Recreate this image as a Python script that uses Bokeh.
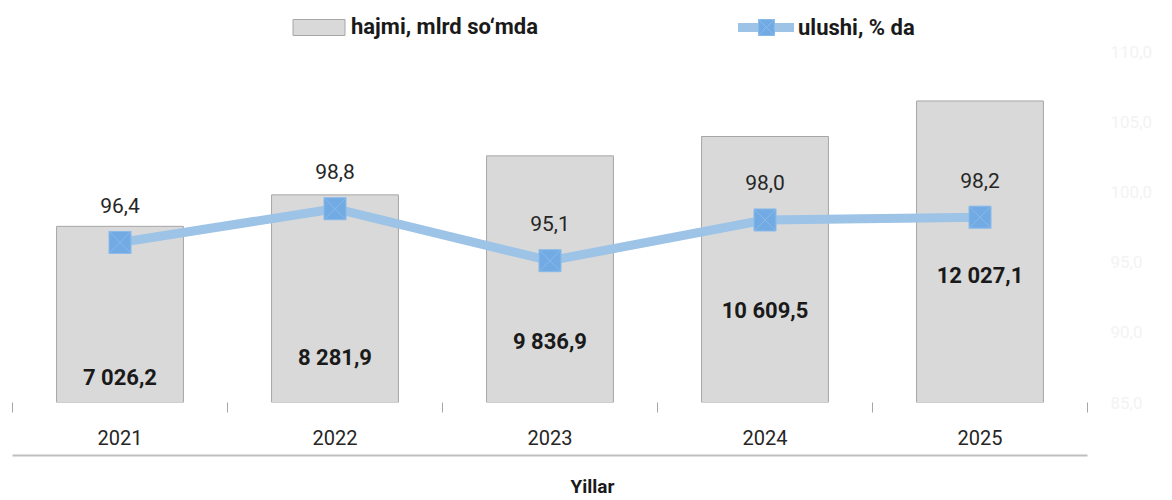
from bokeh.plotting import figure
from bokeh.models import (Range1d, LinearAxis, FixedTicker, Legend, LegendItem,
                          ColumnDataSource, Title)
from bokeh.core.properties import value
from bokeh.embed import file_html
from bokeh.resources import INLINE

# ---- data ----
years = ["2021", "2022", "2023", "2024", "2025"]
volume = [7026.2, 8281.9, 9836.9, 10609.5, 12027.1]      # hajmi, mlrd so'mda
share = [96.4, 98.8, 95.1, 98.0, 98.2]                   # ulushi, % da
pct_ticks = [85, 90, 95, 100, 105, 110]

# styling: where the bold volume labels sit inside the bars (left-axis units)
volume_label_at = [1000, 1800, 2430, 3670, 5070]

FONT = "Roboto"

# the value axes span 351 px (0..14000 and 85..110); the frame is taller so the
# legend can sit inside it, above the data
PLOT_PX = 351
FRAME_PX = 402
vol_max = 14000 * FRAME_PX / PLOT_PX
pct_max = 85 + 25 * FRAME_PX / PLOT_PX


def fmt(v):
    return f"{v:,.1f}".replace(",", " ").replace(".", ",")


xs = list(range(len(years)))
src = ColumnDataSource(dict(
    x=xs, vol=volume, share=share,
    vol_txt=[fmt(v) for v in volume],
    share_txt=[fmt(v) for v in share],
    lab_y=volume_label_at,
))

p = figure(frame_width=1075, frame_height=FRAME_PX, output_backend="svg",
           toolbar_location=None, x_axis_type=None, y_axis_type=None,
           x_range=Range1d(-0.5, len(years) - 0.5), y_range=Range1d(0, vol_max),
           min_border_left=12, min_border_top=0, min_border_right=0,
           min_border_bottom=0)
p.extra_y_ranges = {"pct": Range1d(85, pct_max)}
p.grid.visible = False
p.outline_line_color = None
p.background_fill_color = "white"

bars = p.vbar(x="x", top="vol", width=0.59, source=src, fill_color="#d9d9d9",
              line_color="#a6a6a6", line_width=1)
line = p.line(x="x", y="share", y_range_name="pct", source=src,
              line_color="#9dc3e6", line_width=9, line_join="round",
              line_cap="round")
mk = p.scatter(x="x", y="share", y_range_name="pct", source=src,
               marker="square_x", size=22, fill_color="#72abe4",
               line_color="#88baea", line_width=1)

p.text(x="x", y="share", text="share_txt", y_range_name="pct", source=src,
       text_align="center", text_baseline="middle", y_offset=-37,
       text_font=value(FONT), text_font_size="21px", text_color="#262626")
p.text(x="x", y="lab_y", text="vol_txt", source=src, text_align="center",
       text_baseline="middle", text_font=value(FONT), text_font_size="22px",
       text_font_style="bold", text_color="#1a1a1a")

# x axis: tick marks between categories, labels at centres
# (a blank 1px axis label only adds a little room before the rule below)
ax1 = LinearAxis(
    ticker=FixedTicker(ticks=xs, minor_ticks=[i - 0.5 for i in range(len(years) + 1)]),
    major_label_overrides={i: y for i, y in zip(xs, years)},
    axis_line_color=None, major_tick_line_color=None,
    major_tick_in=0, major_tick_out=0,
    minor_tick_line_color="#a6a6a6", minor_tick_in=0, minor_tick_out=10,
    major_label_standoff=17, major_label_text_font=FONT,
    major_label_text_font_size="20px", major_label_text_color="#262626",
    axis_label=" ", axis_label_standoff=4, axis_label_text_font_size="1px")
p.add_layout(ax1, "below")

ax2 = LinearAxis(ticker=FixedTicker(ticks=[]), axis_line_color="#bfbfbf",
                 axis_line_width=2, major_tick_line_color=None,
                 minor_tick_line_color=None, major_tick_in=0,
                 major_tick_out=0, minor_tick_out=0)
p.add_layout(ax2, "below")

t = Title(text="Yillar", align="left", offset=558, vertical_align="top",
          text_font=FONT, text_font_size="19px", text_font_style="bold",
          text_color="#1a1a1a", standoff=38)
p.add_layout(t, "below")

# right axis (very faint labels)
ay = LinearAxis(y_range_name="pct", ticker=FixedTicker(ticks=pct_ticks),
                major_label_overrides={v: fmt(v) for v in pct_ticks},
                axis_line_color=None, major_tick_line_color=None,
                minor_tick_line_color=None, major_tick_in=0, major_tick_out=0,
                major_label_standoff=23, major_label_text_color="#f3f3f3",
                major_label_text_font=FONT, major_label_text_font_size="17px")
p.add_layout(ay, "right")

legend_style = dict(orientation="horizontal", padding=0, margin=0,
                    border_line_color=None, background_fill_alpha=0,
                    label_text_font=FONT, label_text_font_size="22px",
                    label_text_font_style="bold", label_text_color="#1a1a1a")
leg1 = Legend(items=[LegendItem(label="hajmi, mlrd so‘mda", renderers=[bars])],
              location=(274, 363), glyph_width=65, glyph_height=20,
              label_standoff=0, **legend_style)
leg2 = Legend(items=[LegendItem(label="ulushi, % da", renderers=[line, mk])],
              location=(726, 355), glyph_width=56, glyph_height=40,
              label_standoff=4, **legend_style)
p.add_layout(leg1, "center")
p.add_layout(leg2, "center")

open("out.html", "w").write(file_html(p, INLINE))
